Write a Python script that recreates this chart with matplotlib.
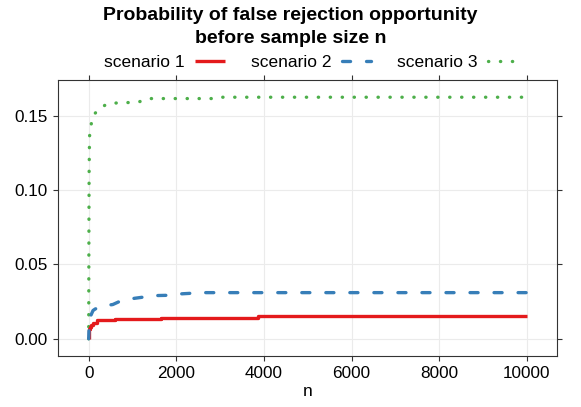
import matplotlib
matplotlib.use("Agg")
from matplotlib import pyplot as plt
from matplotlib.lines import Line2D

# 数据
n_s1 = [1, 3, 6, 12, 30, 60, 110, 190, 610, 1640, 3855, 10000]
p_s1 = [0.0, 0.003, 0.005, 0.0065, 0.008, 0.0095, 0.0107, 0.0123, 0.0132, 0.0141, 0.0152, 0.0152]

n_s2 = [1, 10, 20, 40, 100, 150, 300, 550, 700, 800, 1000, 1250, 1500, 1800, 2000, 2300, 2500, 10000]
p_s2 = [0.0, 0.008, 0.012, 0.015, 0.019, 0.020, 0.022, 0.023, 0.025, 0.026, 0.027, 0.028, 0.029,
        0.0292, 0.030, 0.0305, 0.031, 0.031]

n_s3 = [1, 5, 10, 20, 50, 100, 240, 410, 650, 1000, 1170, 1380, 2900, 3000, 10000]
p_s3 = [0.0, 0.06, 0.11, 0.136, 0.143, 0.150, 0.1545, 0.1576, 0.1585, 0.1588, 0.1594, 0.1614,
        0.1614, 0.1623, 0.1623]

labels = ["scenario 1", "scenario 2", "scenario 3"]
colors = ["#E41A1C", "#377EB8", "#4DAF4A"]
x_ticks = [0, 2000, 4000, 6000, 8000, 10000]
y_ticks = [0.00, 0.05, 0.10, 0.15]

plt.rcParams["font.family"] = ["Liberation Sans", "DejaVu Sans"]
plt.rcParams["lines.scale_dashes"] = False

fig = plt.figure(figsize=(5.81, 4.07), dpi=100)
ax = fig.add_axes([0.0998, 0.1261, 0.8597, 0.6767])

lw = 2.4
dash = (0, (5.8, 11.5))
dot = (0, (0.2, 8.4))

ax.plot(n_s3, p_s3, color=colors[2], lw=lw, linestyle=dot, dash_capstyle="round", zorder=2)
ax.plot(n_s1, p_s1, color=colors[0], lw=lw, drawstyle="steps-post", solid_capstyle="butt", zorder=3)
ax.plot(n_s2, p_s2, color=colors[1], lw=lw, linestyle=dash, dash_capstyle="round", zorder=4)

# 坐标轴范围 (lattice 风格 7% 扩展)
ax.set_xlim(-700, 10700)
ax.set_ylim(-0.01136, 0.1737)
ax.set_xticks(x_ticks)
ax.set_xticklabels([str(v) for v in x_ticks])
ax.set_yticks(y_ticks)
ax.set_yticklabels([f"{v:.2f}" for v in y_ticks])

ax.grid(True, color="#ebebeb", lw=0.8)
ax.set_axisbelow(True)
for sp in ax.spines.values():
    sp.set_color("#333333")
    sp.set_linewidth(0.8)
ax.tick_params(
    direction="out", length=3.6, width=0.8, color="#333333",
    top=True, right=True, labelsize=12.3, pad=4,
)
ax.set_xlabel("n", fontsize=12.5, labelpad=2)

# 标题 (两行)
fig.text(0.5, 1 - 26.8 / 407, "Probability of false rejection opportunity\nbefore sample size n",
         ha="center", va="center", fontsize=14, fontweight="bold", linespacing=1.45)

# 图例 (文字在左, 线在右)
handles = [
    Line2D([], [], color=colors[0], lw=lw, solid_capstyle="butt"),
    Line2D([], [], color=colors[1], lw=lw, linestyle=dash, dash_capstyle="round"),
    Line2D([], [], color=colors[2], lw=lw, linestyle=dot, dash_capstyle="round"),
]
fig.legend(
    handles, labels, ncol=3, markerfirst=False, frameon=False,
    loc="center", bbox_to_anchor=(311 / 581, 1 - 62 / 407),
    fontsize=12.5, handlelength=1.7, handletextpad=0.6, columnspacing=1.5,
    borderaxespad=0, borderpad=0,
)

fig.savefig("out.png", dpi=100, facecolor="white")
